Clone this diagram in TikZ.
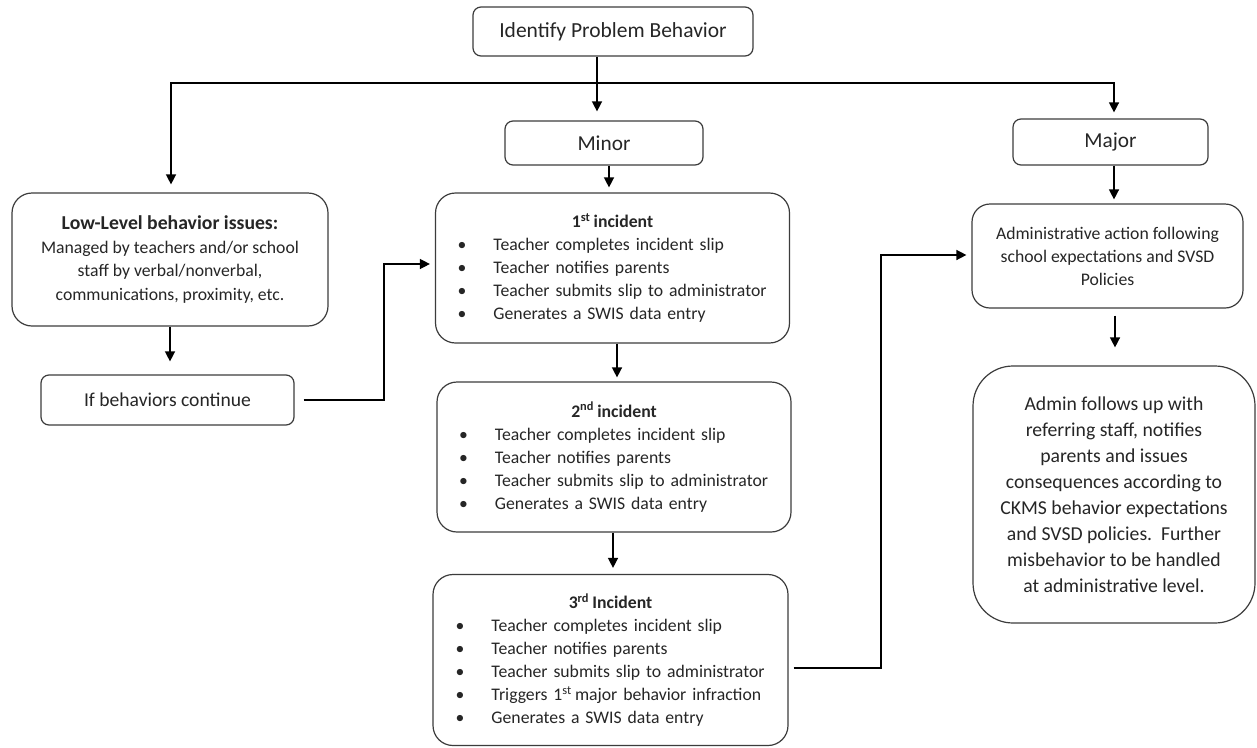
\documentclass[tikz,border=0pt]{standalone}
\usepackage{fontspec}
\setmainfont{Carlito}
\usetikzlibrary{arrows.meta,calc}
\definecolor{boxc}{HTML}{3C3C3C}
\newcommand\bitem[1]{\makebox[330pt][l]{\hspace*{10pt}\makebox[36pt][l]{\textbullet}#1}}
\newcommand\sups[1]{\textsuperscript{#1}\kern-0.15em\relax}
\begin{document}
\begin{tikzpicture}[x=1pt,y=-1pt,
  box/.style={draw=boxc, line width=1.2pt, rounded corners=#1, inner sep=0pt, align=center, font=\fontsize{17.7}{23}\selectfont, text=black!85},
  box/.default=8pt,
  line/.style={line width=1.4pt, draw=black},
  arr/.style={line, -{Triangle[length=10pt,width=10pt]}}]
\useasboundingbox (0,0) rectangle (1257,747);
\fill[white] (0,0) rectangle (1257,747);

\node[box, minimum width=280pt, minimum height=49pt, font=\fontsize{21.5}{26}\selectfont] (idp) at (613,31.5) {Identify Problem Behavior};
\node[box, minimum width=198pt, minimum height=44pt, font=\fontsize{21.3}{26}\selectfont] (minor) at (604,143) {Minor};
\node[box, minimum width=195pt, minimum height=46pt, font=\fontsize{21.3}{26}\selectfont] (major) at (1110.5,142) {Major};
\node[box=20pt, minimum width=316pt, minimum height=133pt, font=\fontsize{17.7}{23.5}\selectfont] (low) at (170,259.5) {{\fontsize{19.7}{23.5}\selectfont\textbf{Low-Level behavior issues:}}\\Managed by teachers and/or school\\staff by verbal/nonverbal,\\communications, proximity, etc.};
\node[box, minimum width=253pt, minimum height=50pt, font=\fontsize{19.6}{24}\selectfont] (ifb) at (167.5,400) {If behaviors continue};
\node[box=20pt, minimum width=354pt, minimum height=150pt, text width=330pt] (inc1) at (612.5,268) {\textbf{1\sups{st} incident}\\
\bitem{Teacher completes incident slip}\\
\bitem{Teacher notifies parents}\\
\bitem{Teacher submits slip to administrator}\\
\bitem{Generates a SWIS data entry}};
\node[box=20pt, minimum width=354pt, minimum height=150pt, text width=330pt] (inc2) at (614,457) {\textbf{2\sups{nd} incident}\\
\bitem{Teacher completes incident slip}\\
\bitem{Teacher notifies parents}\\
\bitem{Teacher submits slip to administrator}\\
\bitem{Generates a SWIS data entry}};
\node[box=20pt, minimum width=355pt, minimum height=171pt, text width=330pt] (inc3) at (610.5,660) {\textbf{3\sups{rd} Incident}\\
\bitem{Teacher completes incident slip}\\
\bitem{Teacher notifies parents}\\
\bitem{Teacher submits slip to administrator}\\
\bitem{Triggers 1\sups{st} major behavior infraction}\\
\bitem{Generates a SWIS data entry}};
\node[box=18pt, minimum width=271pt, minimum height=104pt] (adm) at (1107.5,256) {Administrative action following\\school expectations and SVSD\\Policies};
\node[box=40pt, minimum width=282pt, minimum height=257pt, font=\fontsize{19.7}{26}\selectfont] (fol) at (1114,494.5) {Admin follows up with\\referring staff, notifies\\parents and issues\\consequences according to\\CKMS behavior expectations\\and SVSD policies.\ \ Further\\misbehavior to be handled\\at administrative level.};

\coordinate (tx) at (597,0);
\coordinate (hy) at (0,83);
\coordinate (lx) at (171,0);
\coordinate (rx) at (1114,0);
\draw[arr, shorten >=9pt] (idp.south -| tx) -- (tx |- minor.north);
\draw[arr, shorten >=8pt] (tx |- hy) -- (lx |- hy) -- (lx |- low.north);
\draw[arr, shorten >=6pt] (tx |- hy) -- (rx |- hy) -- (rx |- major.north);

\coordinate (c1) at (609,0);
\draw[arr, shorten >=5pt] (minor.south -| c1) -- (inc1.north -| c1);
\coordinate (c2) at (617,0);
\draw[arr, shorten >=4pt] (inc1.south -| c2) -- (inc2.north -| c2);
\coordinate (c3) at (613,0);
\draw[arr, shorten >=6pt] (inc2.south -| c3) -- (inc3.north -| c3);
\draw[arr, shorten >=13pt] (low.south) -- (ifb.north -| low.south);
\draw[arr, shorten >=4pt] (major.south -| rx) -- (adm.north -| rx);
\coordinate (c4) at (1115,0);
\draw[arr, shorten <=7pt, shorten >=18pt] (adm.south -| c4) -- (fol.north -| c4);

\coordinate (k1) at (384,0);
\coordinate (y1) at (0,264);
\draw[arr, shorten <=9pt, shorten >=5pt] (ifb.east) -- (k1 |- ifb.east) -- (k1 |- y1) -- (inc1.west |- y1);
\coordinate (k2) at (881,0);
\coordinate (y2) at (0,668);
\coordinate (y3) at (0,255);
\draw[arr, shorten <=5pt, shorten >=5pt] (inc3.east |- y2) -- (k2 |- y2) -- (k2 |- y3) -- (adm.west |- y3);
\end{tikzpicture}
\end{document}
